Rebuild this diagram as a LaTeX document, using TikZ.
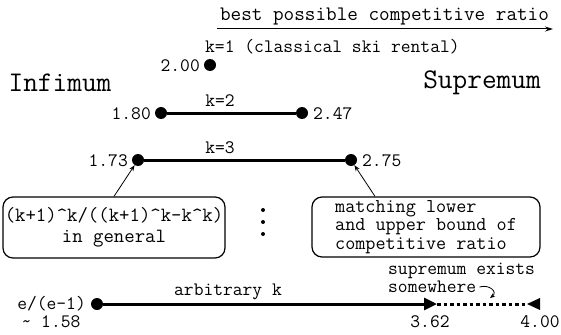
\documentclass[tikz,border=0pt]{standalone}
\usepackage{fontspec}
\setmonofont{Latin Modern Mono}
\usetikzlibrary{arrows.meta}
\begin{document}
\begin{tikzpicture}[x=1pt,y=-1pt,
  lbl/.style={font=\ttfamily\fontsize{19}{17}\selectfont, inner sep=0pt},
  ttl/.style={font=\ttfamily\fontsize{20.6}{20}\selectfont, inner sep=0pt},
  big/.style={font=\ttfamily\fontsize{28.5}{28}\selectfont, inner sep=0pt},
  dot/.style={circle, fill=black, minimum size=12pt, inner sep=0pt},
  tiny/.style={circle, fill=black, minimum size=4pt, inner sep=0pt},
  bar/.style={line width=3pt},
  note/.style={draw, rounded corners=10pt, line width=1.2pt, inner sep=0pt},
  pointer/.style={-{Stealth[length=6pt,width=4.5pt]}, line width=0.8pt}
]
\useasboundingbox (0,0) rectangle (561,334);

% direction of the scale
\node[ttl] (title) at (384.5,16) {best possible competitive ratio};
\coordinate (axL) at (217,29);
\coordinate (axR) at (553,29);
\draw[line width=1pt, -{Stealth[length=8pt,width=5pt]}] (axL) -- (axR);

\node[big] (inf) at (60,83) {Infimum};
\node[big] (sup) at (482,83) {Supremum};

% k = 1
\node[lbl, anchor=west] (k1) at (205,47) {k=1 (classical ski rental)};
\node[dot] (d1) at (210,65) {};
\node[lbl, anchor=east] (v1) at (200,66) {2.00};

% k = 2
\node[dot] (d2a) at (161,113) {};
\node[dot] (d2b) at (302,113) {};
\draw[bar] (d2a) -- (d2b);
\node[lbl] (k2) at (220,101) {k=2};
\node[lbl, anchor=east] (v2a) at (151,114) {1.80};
\node[lbl, anchor=west] (v2b) at (313,114) {2.47};

% k = 3
\node[dot] (d3a) at (138,160) {};
\node[dot] (d3b) at (351,160) {};
\draw[bar] (d3a) -- (d3b);
\node[lbl] (k3) at (220,148) {k=3};
\node[lbl, anchor=east] (v3a) at (128,161) {1.73};
\node[lbl, anchor=west] (v3b) at (362,161) {2.75};

% explanatory boxes
\node[note, minimum width=222pt, minimum height=61pt, align=center,
  font=\ttfamily\fontsize{20.2}{20.5}\selectfont] (lbox) at (114,227.5)
  {(k+1)\textasciicircum k/((k+1)\textasciicircum k-k\textasciicircum k)\\in general};
\node[note, minimum width=228pt, minimum height=60pt, align=left,
  font=\ttfamily\fontsize{19.6}{18.6}\selectfont] (rbox) at (426,227)
  {matching lower\\and upper bound of\\competitive ratio};
\draw[pointer] (lbox.north) -- (d3a);
\draw[pointer] ([xshift=-51pt]rbox.north) -- (d3b);

% vertical ellipsis
\node[tiny] (e1) at (263,210) {};
\node[tiny] (e2) at (263,222) {};
\node[tiny] (e3) at (263,234) {};

% arbitrary k
\node[dot] (de) at (97,304) {};
\coordinate (m362) at (437,304);
\coordinate (m400) at (527,304);
\draw[bar, -{Triangle[length=13pt,width=12pt]}] (de) -- (m362);
\draw[line width=3pt, dash pattern=on 3.5pt off 3pt] (m362) -- (m400);
\fill (m400) -- ++(13,-6) -- ++(0,12) -- cycle;
\node[lbl] (ak) at (228,292) {arbitrary k};
\node[lbl, anchor=east] (ve) at (86,304) {e/(e-1)};
\node[lbl] (vapprox) at (51,322) {\textasciitilde{} 1.58};
\node[lbl] (v362) at (430,322) {3.62};
\node[lbl] (v400) at (540,322) {4.00};

\node[lbl, anchor=west] (se) at (388,271) {supremum exists};
\node[lbl, anchor=west] (sw) at (388,287) {somewhere};
\coordinate (cq) at (490,298);
\draw[line width=0.8pt, -{Stealth[length=5pt,width=4pt]}]
  ([xshift=3pt]sw.east) .. controls +(10,-3) and +(8,-6) .. (cq);
\end{tikzpicture}
\end{document}
